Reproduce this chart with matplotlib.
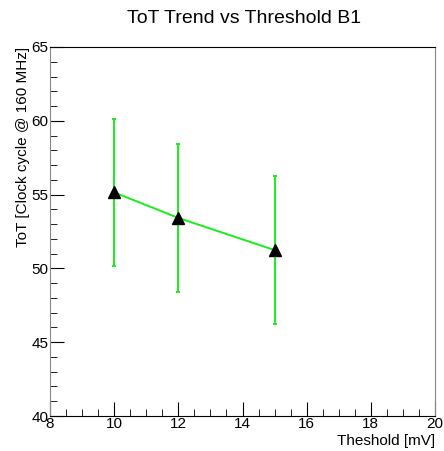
import matplotlib.pyplot as plt
from matplotlib.ticker import MultipleLocator

plt.rcParams['font.family'] = ['Liberation Sans', 'DejaVu Sans']

# threshold scan, mean ToT with spread
threshold = [10, 12, 15]
tot_mean = [55.15, 53.42, 51.24]
tot_err = [5.0, 5.04, 5.02]

fig = plt.figure(figsize=(4.44, 4.51), dpi=100)
ax = fig.add_axes([0.1126, 0.0776, 0.8672, 0.8182])

green = '#1aee1a'
ax.errorbar(threshold, tot_mean, yerr=tot_err, color=green, lw=1.4,
            capsize=1.2, capthick=1.4, marker='^', markersize=9,
            markerfacecolor='black', markeredgecolor='black', zorder=3)

ax.set_xlim(8, 20)
ax.set_ylim(40, 65)
ax.xaxis.set_major_locator(MultipleLocator(2))
ax.xaxis.set_minor_locator(MultipleLocator(0.5))
ax.yaxis.set_major_locator(MultipleLocator(5))
ax.yaxis.set_minor_locator(MultipleLocator(1))
ax.tick_params(which='both', direction='in', top=False, right=False,
               labelsize=11, pad=1)
ax.tick_params(which='major', length=10)
ax.tick_params(which='minor', length=5)

for side in ['left', 'right']:
    ax.spines[side].set_color('#888888')
ax.spines['top'].set_color('black')
ax.spines['bottom'].set_color('black')

ax.set_xlabel('Theshold [mV]', fontsize=11, loc='right', labelpad=2)
ax.set_ylabel('ToT [Clock cycle @ 160 MHz]', fontsize=11, loc='top', labelpad=1)
fig.suptitle('ToT Trend vs Threshold B1', fontsize=14, x=0.55, y=0.977)

fig.savefig('out.png', dpi=100)
